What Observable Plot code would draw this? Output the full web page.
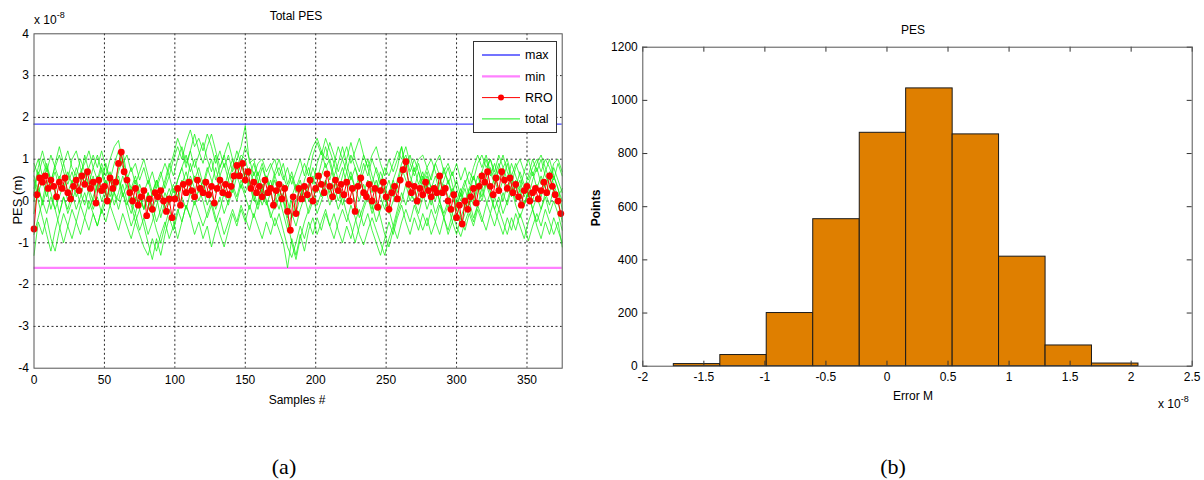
<!DOCTYPE html>
<html><head><meta charset="utf-8">
<script src="https://cdn.jsdelivr.net/npm/d3@7"></script>
<script src="https://cdn.jsdelivr.net/npm/@observablehq/plot@0.6"></script>
<style>
body{margin:0;background:#fff;width:1204px;height:480px;overflow:hidden;position:relative;font-family:"Liberation Sans",Arial,sans-serif;}
.abs{position:absolute;white-space:nowrap;color:#000;font-size:12px;line-height:1;}
.c{transform:translate(-50%,-50%);}
.sup{position:relative;top:-6px;font-size:9px;}
.cap{font-family:"Liberation Serif","DejaVu Serif",serif;font-size:22px;}
</style></head><body>
<div id="a" style="position:absolute;left:0;top:0"></div>
<div id="b" style="position:absolute;left:600px;top:0"></div>

<div class="abs c" style="left:296px;top:16px">Total PES</div>
<div class="abs" style="left:34px;top:14px">x 10<span class="sup">-8</span></div>
<div class="abs c" style="left:17px;top:200px;font-size:13px;transform:translate(-50%,-50%) rotate(-90deg)">PES (m)</div>
<div class="abs c" style="left:297px;top:400px">Samples #</div>

<div class="abs c" style="left:913px;top:30px">PES</div>
<div class="abs c" style="left:596px;top:208px;font-weight:bold;transform:translate(-50%,-50%) rotate(-90deg)">Points</div>
<div class="abs c" style="left:913px;top:396px">Error M</div>
<div class="abs" style="left:1158px;top:398px">x 10<span class="sup">-8</span></div>

<div class="abs c cap" style="left:284px;top:467px">(a)</div>
<div class="abs c cap" style="left:893px;top:467px">(b)</div>

<div id="legend" style="position:absolute;left:473px;top:41px;width:82px;height:90px;border:1px solid #333;background:#fff;"></div>

<script>
// ---- Panel (a): values in units of 1e-8 m ----
const xTicksA = [0, 50, 100, 150, 200, 250, 300, 350];
const yTicksA = [-4, -3, -2, -1, 0, 1, 2, 3, 4];
const maxLevel = 1.84;
const minLevel = -1.6;

// RRO, one value every 2 samples (0..374)
const rroStep = 2;
const rroValues = [
 -0.67, 0.15, 0.55, 0.45, 0.6, 0.3, 0.5, 0.35, 0.1, 0.45,
 0.3, 0.55, 0.2, 0.05, 0.35, 0.5, 0.25, 0.6, 0.4, 0.7,
 0.3, 0.45, -0.05, 0.5, 0.25, 0.35, 0.0, 0.55, 0.3, 0.45,
 0.9, 1.17, 0.7, 0.5, 0.2, 0.0, 0.3, -0.1, 0.1, 0.25,
 -0.35, 0.05, -0.2, 0.2, 0.1, 0.25, 0.0, -0.25, 0.05, -0.4,
 0.05, 0.3, -0.1, 0.4, 0.2, 0.45, 0.25, 0.1, 0.5, 0.3,
 0.2, 0.45, 0.15, 0.35, -0.05, 0.3, 0.5, 0.2, 0.4, 0.15,
 0.35, 0.6, 0.85, 0.6, 0.9, 0.5, 0.7, 0.3, 0.45, 0.2,
 0.35, 0.1, 0.5, 0.2, 0.3, -0.1, 0.25, 0.4, 0.05, 0.3,
 -0.25, -0.7, 0.1, -0.3, 0.3, 0.05, 0.35, 0.15, 0.5, 0.0,
 0.3, 0.6, 0.4, 0.2, 0.65, 0.35, 0.1, 0.5, 0.25, 0.4,
 0.15, 0.45, 0.0, 0.3, -0.25, 0.35, 0.55, 0.2, 0.1, 0.4,
 0.0, 0.3, -0.15, 0.25, 0.45, 0.1, -0.2, 0.2, 0.35, 0.05,
 0.5, 0.75, 0.94, 0.4, 0.2, 0.35, 0.0, 0.3, 0.15, 0.45,
 0.25, 0.1, 0.3, 0.2, 0.6, 0.2, 0.3, 0.0, -0.2, 0.15,
 -0.4, -0.1, -0.55, 0.0, -0.2, 0.1, 0.3, -0.05, 0.35, 0.6,
 0.45, 0.7, 0.35, 0.15, 0.55, 0.25, 0.7, 0.5, 0.3, 0.55,
 0.2, 0.4, 0.1, -0.1, 0.25, 0.35, 0.0, 0.2, 0.3, 0.05,
 0.25, 0.45, 0.2, 0.6, 0.35, 0.15, 0.0, -0.3
];

// "total" runs, one value every 3 samples (0..375)
const totalStep = 3;
const totalRun1 = [
 0.9,0.6,1.0,0.7,1.1,0.8,0.5,0.9,1.2,0.8, 0.6,1.0,0.7,0.4,0.8,0.5,0.9,0.6,1.0,1.3,
 1.45,0.9,1.1,0.7,0.9,0.5,0.8,0.4,0.7,0.3, 0.6,0.9,0.6,1.0,1.3,1.0,1.4,1.7,1.3,1.5,
 1.2,1.6,1.3,0.9,1.2,0.8,1.1,0.7,1.0,1.3, 1.8,0.9,1.0,0.6,0.9,0.5,0.8,1.0,0.6,0.9,
 0.4,0.7,0.3,0.6,0.9,0.6,1.1,1.4,1.1,1.5, 1.2,0.9,1.3,1.0,0.7,1.1,0.8,0.5,0.9,0.6,
 1.0,0.7,0.4,0.8,0.6,0.9,1.2,1.0,1.3,0.9, 0.6,0.9,0.5,0.8,1.0,0.7,0.4,0.7,0.5,0.2,
 0.5,0.1,0.4,0.7,0.5,0.9,1.1,0.8,1.0,0.7, 1.1,0.8,0.5,0.9,0.6,0.3,0.7,0.5,0.8,1.0,
 0.7,1.0,0.8,0.5,0.9,0.6
];
const totalRun2 = [
 0.2,0.7,0.4,0.8,0.5,0.2,0.6,0.3,0.7,0.4, 0.8,0.5,1.1,0.7,0.3,0.6,0.2,0.5,0.1,0.4,
 0.8,1.2,0.6,0.3,0.0,0.4,0.1,-0.2,0.2,0.5, 0.2,0.5,0.9,0.6,1.0,1.3,0.9,1.2,0.8,1.1,
 1.4,1.0,0.7,1.1,0.6,0.9,0.5,0.8,1.2,0.9, 0.6,0.3,0.7,0.4,0.8,0.5,0.2,0.6,0.3,0.0,
 -0.3,0.1,0.4,0.0,0.5,0.8,0.4,0.9,1.2,0.8, 1.0,0.6,0.9,1.3,0.9,0.5,0.8,0.4,0.7,1.0,
 0.6,0.3,0.7,0.4,0.0,0.5,0.8,1.3,0.7,0.4, 0.8,0.4,0.7,0.3,0.6,0.9,0.6,0.2,0.5,0.1,
 -0.2,0.2,0.5,0.1,0.6,0.3,0.7,1.0,0.6,0.9, 0.5,0.8,1.0,0.6,0.3,0.7,0.4,0.1,0.5,0.8,
 0.4,0.7,1.0,0.6,0.3,0.0
];
const totalRun3 = [
 -0.3,0.3,0.0,0.5,0.2,-0.2,0.1,0.4,0.0,0.3, 0.6,0.2,-0.1,0.3,0.6,0.2,0.5,0.9,0.5,0.2,
 0.5,0.1,0.4,0.0,-0.3,0.1,-0.2,0.2,-0.1,-0.5, -0.2,0.2,-0.1,0.3,0.0,0.4,0.7,0.3,0.6,0.2,
 0.5,0.1,0.4,0.8,0.4,0.1,0.5,0.2,0.6,0.3, 0.7,0.4,0.0,0.3,-0.1,0.2,0.5,0.1,-0.2,0.2,
 -0.4,0.0,-0.3,0.1,0.4,0.0,0.3,-0.1,0.2,0.5, 0.2,0.6,0.3,-0.1,0.2,0.6,0.3,0.0,0.4,0.1,
 -0.2,0.2,0.5,0.1,-0.3,0.0,0.4,0.8,0.5,0.2, 0.0,0.3,0.6,0.2,-0.1,0.3,0.0,0.4,0.1,-0.3,
 0.0,-0.4,-0.1,0.3,0.0,0.4,0.1,0.5,0.2,0.6, 0.3,0.0,0.4,0.1,0.5,0.2,-0.1,0.3,0.0,0.4,
 0.1,0.5,0.2,0.6,0.3,-0.2
];
const totalRun4 = [
 -1.3,-0.5,-0.8,-0.4,-0.9,-1.2,-0.7,-0.3,-0.6,-0.2, -0.5,-0.1,-0.4,0.0,-0.3,-0.6,-0.2,-0.5,-0.1,-0.4,
 -0.7,-0.3,-0.6,-0.9,-0.5,-0.8,-1.1,-1.3,-0.9,-1.2, -0.8,-0.5,-0.9,-0.6,-0.2,-0.5,-0.1,-0.4,-0.8,-0.5,
 -0.9,-0.6,-1.1,-0.7,-0.4,-0.8,-0.5,-0.2,-0.5,-0.1, -0.4,-0.7,-0.3,-0.6,-0.9,-0.5,-0.8,-0.4,-0.7,-1.0,
 -1.6,-0.9,-1.3,-0.8,-1.2,-0.7,-0.4,-0.8,-0.5,-0.2, -0.6,-0.3,-0.7,-1.0,-0.6,-0.9,-0.5,-0.2,-0.6,-0.3,
 -0.7,-1.0,-1.3,-0.9,-0.5,-0.8,-0.4,-0.1,-0.5,-0.8, -0.4,-0.7,-0.3,-0.6,-0.2,-0.5,-0.8,-0.4,-0.7,-0.3,
 -0.6,-0.85,-0.5,-0.2,-0.5,-0.1,-0.4,-0.7,-0.3,-0.6, -0.2,-0.5,-0.8,-0.4,-0.7,-0.3,-0.6,-0.95,-0.6,-0.3,
 -0.6,-0.2,-0.5,-0.8,-0.5,-1.1
];
const totalRun5 = [
 0.5,0.0,-0.4,-0.8,-1.2,-0.7,-0.3,0.1,-0.2,0.2, -0.2,0.1,0.5,0.2,-0.2,0.1,-0.3,0.0,0.3,-0.1,
 0.2,0.6,0.3,-0.1,-0.5,-0.2,-0.6,-1.0,-1.4,-0.9, -1.3,-0.8,-0.4,-0.7,-0.3,0.1,-0.2,0.2,-0.1,0.3,
 0.0,-0.4,-0.1,-0.5,-0.2,0.2,-0.1,0.3,0.0,0.4, 0.1,-0.2,0.2,-0.1,0.3,0.0,-0.4,-0.1,0.3,0.0,
 -0.5,-1.0,-1.4,-0.9,-0.5,-0.2,0.1,-0.3,0.0,0.3, -0.1,0.2,-0.2,0.1,-0.3,-0.6,-1.0,-0.6,-0.2,0.1,
 -0.3,0.0,-0.4,-0.8,-1.1,-0.7,-0.3,0.0,0.4,0.0, 0.3,-0.1,0.2,-0.2,0.1,-0.3,0.0,-0.4,-0.1,-0.5,
 -0.2,-0.6,-0.3,0.0,-0.4,-0.1,0.3,0.0,-0.3,0.1, -0.2,0.2,-0.1,0.3,-0.1,-0.4,-0.1,0.2,-0.2,-0.5,
 -0.2,0.1,-0.3,0.0,-0.3,-0.7
];
const totalRun6 = [
 0.7,1.0,0.6,0.9,0.5,0.8,1.1,0.7,0.4,0.7, 0.3,0.7,0.9,1.2,0.8,1.1,0.7,0.3,0.6,0.2,
 0.0,0.4,0.0,-0.3,0.1,-0.2,0.2,0.5,0.1,0.4, 0.7,0.3,0.6,0.2,0.5,0.8,1.1,0.7,1.0,0.6,
 0.3,0.7,1.0,0.5,0.8,1.1,0.7,0.4,0.8,1.1, 1.0,0.6,0.9,0.5,0.2,0.6,0.3,0.7,1.0,0.6,
 0.3,0.6,0.2,0.5,0.1,0.4,0.8,0.5,0.9,1.3, 0.9,0.5,0.2,0.6,1.0,1.4,1.0,0.7,1.1,0.8,
 0.4,0.8,0.5,0.2,0.5,0.1,0.5,0.9,1.1,0.7, 1.0,0.7,0.3,0.6,0.3,0.0,0.4,0.8,0.4,0.7,
 0.3,0.0,0.3,-0.1,0.2,0.6,0.3,0.7,1.0,0.6, 0.9,0.5,0.2,0.6,0.9,0.6,0.3,0.6,1.0,0.7,
 1.0,0.6,0.4,0.8,0.5,0.2
];
const totalRun7 = [
 -0.8,-0.4,0.0,-0.3,0.1,-0.2,-0.6,-1.0,-0.6,-0.9, -0.5,-0.8,-0.4,-0.7,-0.3,-0.6,-0.2,0.2,-0.1,0.3,
 0.6,0.2,-0.1,0.3,0.6,0.2,-0.2,0.1,-0.3,-0.7, -1.0,-0.6,-0.2,-0.5,-0.9,-0.5,-0.1,-0.4,0.0,-0.3,
 -0.6,-0.3,0.0,-0.4,-0.8,-1.1,-0.7,-0.3,-0.6,-0.2, -0.5,-0.1,-0.4,0.0,0.4,0.0,-0.3,-0.6,-0.3,-0.7,
 -1.1,-1.35,-1.0,-0.6,-0.9,-0.5,-0.8,-0.4,-0.7,-0.3, -0.6,-0.9,-0.5,-0.2,-0.5,-0.1,-0.4,-0.8,-1.05,-0.7,
 -0.4,-0.7,-1.0,-1.3,-0.9,-0.6,-0.9,-0.5,-0.2,-0.5, -0.1,-0.4,-0.7,-0.4,-0.8,-0.5,-0.1,-0.4,-0.8,-0.5,
 -0.8,-0.4,-0.7,-0.3,-0.6,-0.2,-0.5,-0.1,0.2,-0.2, -0.5,-0.8,-0.4,-0.7,-0.3,-0.6,-0.9,-0.5,-0.2,-0.6,
 -0.9,-0.5,-0.8,-0.4,-0.7,-1.0
];
const totalRun8 = [
 0.3,0.8,1.2,0.8,0.4,0.9,1.3,0.9,0.5,1.0, 1.2,0.8,0.4,0.8,1.1,0.8,1.2,0.8,0.5,0.9,
 1.2,0.8,0.5,0.8,0.4,0.7,1.0,0.6,0.2,0.5, 0.1,0.4,0.8,1.1,1.5,1.2,0.8,1.2,1.6,1.2,
 0.9,1.3,1.6,1.2,0.8,1.1,1.4,1.0,0.6,0.9, 1.3,1.0,0.6,0.9,1.0,0.7,0.9,0.6,0.8,0.5,
 0.8,0.4,0.7,1.0,0.6,1.0,1.3,1.5,1.2,1.0, 1.4,1.1,0.7,1.0,1.3,0.9,1.2,1.5,1.1,0.8,
 1.1,1.3,0.9,0.6,1.0,0.7,1.0,1.3,0.8,1.1, 0.7,1.0,1.1,0.8,0.5,0.9,1.1,0.7,0.9,0.6,
 0.9,0.5,0.8,0.4,0.8,1.1,0.8,1.1,0.7,0.4, 0.8,1.1,0.7,0.4,0.8,1.0,0.7,1.0,0.6,0.9,
 1.1,0.8,0.5,0.9,1.0,0.7
];
const totalRun9 = [
 0.6,0.2,0.5,0.1,0.4,0.7,0.3,0.6,0.2,0.5, 0.1,0.4,0.7,0.3,0.0,0.4,0.8,0.4,0.7,0.3,
 0.7,1.0,0.6,0.2,0.5,0.1,-0.2,0.2,-0.2,0.1, -0.4,0.0,0.3,0.0,0.5,0.8,0.4,0.9,0.5,0.8,
 0.4,0.8,0.5,0.2,0.6,0.3,0.7,1.0,0.6,0.9, 0.5,0.8,0.4,0.7,0.3,0.6,0.2,0.5,0.1,0.4,
 0.0,-0.4,0.0,0.3,0.0,0.3,0.6,0.2,0.6,0.9, 0.5,0.9,0.5,0.8,0.4,0.7,0.3,0.6,0.2,0.5,
 0.2,0.5,0.1,-0.2,0.2,0.5,0.2,0.6,1.0,0.6, 0.3,0.7,0.4,0.7,0.3,0.6,0.2,0.5,0.8,0.4,
 0.0,0.3,-0.1,0.3,0.6,0.3,0.7,0.4,0.8,0.5, 0.2,0.5,0.9,0.5,0.2,0.5,0.1,0.4,0.7,0.3,
 0.6,0.3,0.7,0.4,0.1,0.3
];
const totalRun10 = [
 0.0,0.4,-0.1,0.3,-0.2,0.2,-0.3,0.1,-0.3,0.0, 0.3,-0.1,0.2,-0.2,0.1,0.4,0.0,0.3,-0.1,0.2,
 -0.2,0.2,-0.2,-0.6,-0.3,-0.7,-0.4,-0.8,-0.5,-0.1, 0.2,-0.2,0.1,0.4,0.1,0.5,0.2,0.6,0.3,0.0,
 0.3,-0.1,0.2,-0.2,0.1,-0.3,0.0,0.4,0.1,0.5, 0.2,0.5,0.1,-0.2,0.2,-0.1,0.2,-0.2,0.1,-0.3,
 -0.7,-0.3,-0.6,-0.2,0.1,-0.3,0.0,0.4,0.1,0.5, 0.1,0.4,0.0,0.3,0.7,0.3,0.0,-0.4,-0.1,0.2,
 -0.1,-0.5,-0.2,0.1,-0.2,-0.6,-0.2,0.2,-0.1,0.3, 0.0,-0.3,0.1,0.4,0.1,0.4,0.0,-0.3,0.0,0.3,
 -0.1,0.2,-0.2,0.2,-0.1,0.3,0.0,0.4,0.1,-0.2, 0.1,-0.3,0.0,0.4,0.0,0.3,-0.1,0.2,-0.2,0.1,
 -0.2,0.2,-0.1,0.3,0.0,-0.5
];

// ---- Panel (b): histogram, error in units of 1e-8 ----
const xTicksB = [-2, -1.5, -1, -0.5, 0, 0.5, 1, 1.5, 2, 2.5];
const yTicksB = [0, 200, 400, 600, 800, 1000, 1200];
const histEdges = [-1.746, -1.365, -0.985, -0.604, -0.223, 0.157, 0.538, 0.918, 1.299, 1.679, 2.06];
const histCounts = [8, 42, 200, 553, 878, 1045, 872, 412, 78, 10];

// ---- build ----
const fmt = d => String(d);
const fontStyle = {fontFamily: '"Liberation Sans", Arial, sans-serif', fontSize: "12px", color: "#000", background: "#fff", overflow: "visible"};

const runs = [totalRun1, totalRun2, totalRun3, totalRun4, totalRun5, totalRun6, totalRun7, totalRun8, totalRun9, totalRun10];
const totalData = runs.flatMap((arr, k) => arr.map((v, i) => ({run: k, x: i * totalStep, y: v})));
const rroData = rroValues.map((v, i) => ({x: i * rroStep, y: v}));

const A = {w: 600, h: 420, ml: 33.5, mr: 38.3, mt: 33.3, mb: 52.3};
const gridStyle = {stroke: "#111", strokeOpacity: 1, strokeWidth: 0.9, strokeDasharray: "2,2.5"};
const plotA = Plot.plot({
  width: A.w, height: A.h,
  marginLeft: A.ml, marginRight: A.mr, marginTop: A.mt, marginBottom: A.mb,
  x: {domain: [0, 375]},
  y: {domain: [-4, 4]},
  style: fontStyle,
  marks: [
    Plot.gridX(xTicksA.filter(d => d > 0), gridStyle),
    Plot.gridY(yTicksA.filter(d => d > -4 && d < 4), gridStyle),
    Plot.ruleY([maxLevel], {stroke: "#4545ff", strokeWidth: 1.4}),
    Plot.ruleY([minLevel], {stroke: "#ff80ff", strokeWidth: 2.2}),
    Plot.line(totalData, {x: "x", y: "y", z: "run", stroke: "#10f010", strokeWidth: 0.75}),
    Plot.line(rroData, {x: "x", y: "y", stroke: "#ff0000", strokeWidth: 1}),
    Plot.dot(rroData, {x: "x", y: "y", r: 3.4, fill: "#ff0000", stroke: "none"}),
    Plot.frame({stroke: "#555", strokeWidth: 1}),
    Plot.axisX(xTicksA, {tickSize: 0, tickPadding: 7, label: null, tickFormat: fmt}),
    Plot.axisY(yTicksA, {tickSize: 0, tickPadding: 5, label: null, tickFormat: fmt})
  ]
});
document.getElementById("a").appendChild(plotA);

const B = {w: 604, h: 420, ml: 42.3, mr: 12.3, mt: 46.7, mb: 54.3};
const pwB = B.w - B.ml - B.mr, phB = B.h - B.mt - B.mb;
const bins = histCounts.map((c, i) => ({x1: histEdges[i], x2: histEdges[i + 1], y: c}));
const tickStyle = {stroke: "#333", strokeWidth: 1};
const plotB = Plot.plot({
  width: B.w, height: B.h,
  marginLeft: B.ml, marginRight: B.mr, marginTop: B.mt, marginBottom: B.mb,
  x: {domain: [-2, 2.5]},
  y: {domain: [0, 1200]},
  style: fontStyle,
  marks: [
    Plot.rectY(bins, {x1: "x1", x2: "x2", y: "y", fill: "#df7f00", stroke: "#1a1a1a", strokeWidth: 1}),
    Plot.tickX(xTicksB, {x: d => d, insetTop: phB - 5, ...tickStyle}),
    Plot.tickX(xTicksB, {x: d => d, insetBottom: phB - 5, ...tickStyle}),
    Plot.tickY(yTicksB, {y: d => d, insetRight: pwB - 5, ...tickStyle}),
    Plot.tickY(yTicksB, {y: d => d, insetLeft: pwB - 5, ...tickStyle}),
    Plot.frame({stroke: "#555", strokeWidth: 1}),
    Plot.axisX(xTicksB, {tickSize: 0, tickPadding: 6, label: null, tickFormat: fmt}),
    Plot.axisY(yTicksB, {tickSize: 0, tickPadding: 5, label: null, tickFormat: fmt})
  ]
});
document.getElementById("b").appendChild(plotB);

// legend for panel (a)
const legendItems = [
  {name: "max", color: "#4545ff", width: 1.4, marker: false},
  {name: "min", color: "#ff80ff", width: 2.2, marker: false},
  {name: "RRO", color: "#ff0000", width: 1, marker: true},
  {name: "total", color: "#10f010", width: 1, marker: false}
];
const lg = d3.select("#legend").append("svg").attr("width", 82).attr("height", 90)
  .style("font-family", '"Liberation Sans", Arial, sans-serif').style("font-size", "12.5px");
legendItems.forEach((it, i) => {
  const y = 13 + i * 21.3;
  lg.append("line").attr("x1", 8).attr("x2", 46).attr("y1", y).attr("y2", y)
    .attr("stroke", it.color).attr("stroke-width", it.width);
  if (it.marker) lg.append("circle").attr("cx", 27).attr("cy", y).attr("r", 3).attr("fill", it.color);
  lg.append("text").attr("x", 51).attr("y", y).attr("dy", "0.35em").text(it.name);
});
</script>
</body></html>
